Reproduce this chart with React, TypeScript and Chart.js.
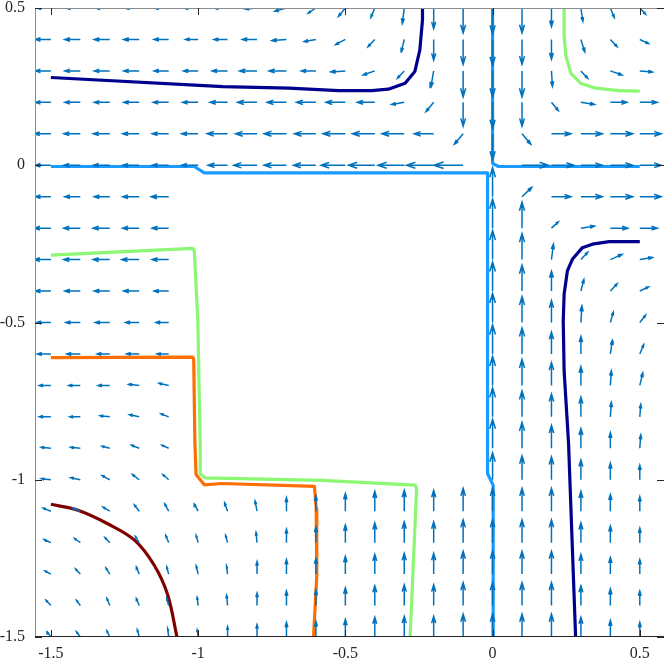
import React, { useEffect, useRef } from 'react';
import { Chart, registerables } from 'chart.js';

Chart.register(...registerables);

const N = null;

// grid of the vector field
const X_GRID = [-1.5, -1.4, -1.3, -1.2, -1.1, -1.0, -0.9, -0.8, -0.7, -0.6, -0.5, -0.4, -0.3, -0.2, -0.1, 0, 0.1, 0.2, 0.3, 0.4, 0.5];
const Y_GRID = [0.5, 0.4, 0.3, 0.2, 0.1, 0, -0.1, -0.2, -0.3, -0.4, -0.5, -0.6, -0.7, -0.8, -0.9, -1.0, -1.1, -1.2, -1.3, -1.4, -1.5];

// horizontal components, one row per Y_GRID value
const U_ROWS = [
  [-15, -15, -15, -15, -15, -15, -14, -12, -12, -8, -7, -4, -2, 0, 0, 0, 0, 0, 2, 4, 6],
  [-16, -16, -16, -16, -15, -13, -14, -15, -15, -12, -10, -7, -3, 0, 0, 0, 0, 0, 4, 7, 9],
  [-16, -16, -16, -16, -15, -15, -16, -18, -18, -15, -15, -12, -7, -3, 0, 0, 0, 1, 7, 12, 13],
  [-16, -16, -16, -16, -16, -16, -18, -20, -20, -20, -20, -18, -13, -8, 0, 0, 0, 7, 14, 17, 18],
  [-17, -17, -17, -17, -17, -17, -21, -22, -23, -22, -23, -23, -23, -20, -9, 0, 9, 20, 22, 23, 22],
  [-16, -17, -17, -17, -17, -17, -20, -24, -23, -23, -25, -27, -27, -28, -30, 0, 27, 23, 22, 23, 22],
  [-16, -16, -16, -17, -18, N, N, N, N, N, N, N, N, N, N, 0, 10, 20, 22, 23, 22],
  [-17, -17, -17, -17, -17, N, N, N, N, N, N, N, N, N, N, 0, 0, 7, 14, 18, 18],
  [-17, -17, -17, -18, -17, N, N, N, N, N, N, N, N, N, N, 0, 0, 2, 7, 12, 13],
  [-16, -16, -16, -16, -15, N, N, N, N, N, N, N, N, N, N, 0, 0, 0, 3, 7, 9],
  [-15, -15, -15, -14, -13, N, N, N, N, N, N, N, N, N, N, 0, 0, 0, 1, 3, 6],
  [-14, -14, -13, -13, -12, N, N, N, N, N, N, N, N, N, N, 0, 0, 0, 0, 2, 4],
  [-12, -12, -12, -11, -10, N, N, N, N, N, N, N, N, N, N, 0, 0, 0, 0, 1, 3],
  [-12, -11, -10, -10, -8, N, N, N, N, N, N, N, N, N, N, 0, 0, 0, 0, 1, 1],
  [-10, -10, -8, -8, -7, N, N, N, N, N, N, N, N, N, N, 0, 0, 0, 0, 0, 1],
  [-10, -10, -8, -7, -6, N, N, N, N, N, N, N, N, N, N, 0, 0, 0, 0, 0, 0],
  [-8, -8, -7, -5, -4, -4, -3, -2, 0, 0, 0, 0, 0, 0, 0, 0, 0, 0, 0, 0, 0],
  [-7, -6, -5, -4, -3, -2, -2, -1, 0, 0, 0, 0, 0, 0, 0, 0, 0, 0, 0, 0, 0],
  [-6, -5, -4, -3, -2, -2, -1, 0, 0, 0, 0, 0, 0, 0, 0, 0, 0, 0, 0, 0, 0],
  [-5, -4, -3, -3, -2, -1, -1, 0, 0, 0, 0, 0, 0, 0, 0, 0, 0, 0, 0, 0, 0],
  [-4, -4, -3, -2, -1, -1, 0, 0, 0, 0, 0, 0, 0, 0, 0, 0, 0, 0, 0, 0, 0],
];

// vertical components, one row per Y_GRID value
const V_ROWS = [
  [0, 0, 0, 0, 0, 0, 0, -1, -3, -5, -8, -9, -15, -20, -24, -25, -24, -18, -13, -9, -6],
  [0, 0, 0, 0, 0, 0, 0, 0, -1, -2, -5, -7, -12, -20, -24, -25, -24, -19, -12, -7, -4],
  [0, 0, 0, 0, 0, 0, 0, 0, 0, 0, -1, -4, -7, -16, -25, -25, -25, -15, -7, -4, -1],
  [0, 0, 0, 0, 0, 0, 0, 0, 0, 0, 0, 0, -2, -9, -23, -25, -23, -8, -2, 0, 0],
  [0, 0, 0, 0, 0, 0, 0, 0, 0, 0, 0, 0, 0, 0, -10, -25, -10, 0, 0, 0, 0],
  [0, 0, 0, 0, 0, 0, 0, 0, 0, 0, 0, 0, 0, 0, 0, 0, 0, 0, 0, 0, 0],
  [0, 0, 0, 0, 0, N, N, N, N, N, N, N, N, N, N, 28, 9, 0, 0, 0, 0],
  [0, 0, 0, 0, 0, N, N, N, N, N, N, N, N, N, N, 28, 25, 6, 2, 0, 0],
  [0, 0, 0, 0, 0, N, N, N, N, N, N, N, N, N, N, 28, 25, 15, 7, 5, 2],
  [0, 0, 0, 0, 0, N, N, N, N, N, N, N, N, N, N, 28, 25, 19, 11, 7, 4],
  [0, 0, 0, 0, 0, N, N, N, N, N, N, N, N, N, N, 28, 25, 21, 16, 10, 7],
  [0, 0, 0, 0, 0, N, N, N, N, N, N, N, N, N, N, 28, 25, 21, 17, 13, 9],
  [0, 0, 0, 1, 2, N, N, N, N, N, N, N, N, N, N, 28, 25, 22, 18, 14, 12],
  [0, 0, 1, 2, 3, N, N, N, N, N, N, N, N, N, N, 28, 25, 22, 19, 14, 12],
  [1, 1, 2, 3, 3, N, N, N, N, N, N, N, N, N, N, 28, 25, 22, 19, 15, 13],
  [1, 2, 4, 5, 5, N, N, N, N, N, N, N, N, N, N, 26, 23, 22, 19, 16, 14],
  [3, 3, 4, 6, 7, 7, 8, 10, 13, 15, 17, 19, 20, 20, 22, 22, 22, 22, 19, 16, 14],
  [3, 4, 5, 6, 7, 7, 7, 10, 13, 15, 17, 19, 20, 20, 22, 22, 22, 22, 19, 16, 14],
  [3, 5, 6, 7, 7, 8, 8, 12, 14, 15, 17, 19, 20, 20, 22, 22, 22, 22, 19, 16, 14],
  [5, 5, 7, 7, 7, 8, 10, 12, 14, 15, 17, 19, 20, 20, 22, 22, 22, 22, 19, 16, 14],
  [5, 5, 6, 7, 8, 7, 10, 12, 14, 15, 17, 19, 20, 20, 22, 22, 22, 22, 19, 16, 14],
];

// level curves
const NAVY_TOP_X = [-1.5, -0.916, -0.692, -0.523, -0.41, -0.354, -0.297, -0.264, -0.247, -0.238, -0.238];
const NAVY_TOP_Y = [0.279, 0.25, 0.245, 0.237, 0.237, 0.242, 0.261, 0.298, 0.367, 0.462, 0.5];
const NAVY_RIGHT_X = [0.5, 0.396, 0.339, 0.305, 0.271, 0.254, 0.243, 0.24, 0.243, 0.258, 0.282];
const NAVY_RIGHT_Y = [-0.243, -0.243, -0.251, -0.262, -0.299, -0.336, -0.41, -0.495, -0.654, -0.883, -1.5];
const BLUE_A_X = [-1.5, -1.013, -0.979, -0.017, -0.017, 0.002, 0.002];
const BLUE_A_Y = [-0.004, -0.004, -0.024, -0.024, -0.981, -1.017, -1.5];
const BLUE_B_X = [0, 0, 0.02, 0.5];
const BLUE_B_Y = [0.5, 0.006, -0.004, -0.004];
const GREEN_TOP_X = [0.243, 0.243, 0.249, 0.266, 0.299, 0.35, 0.43, 0.5];
const GREEN_TOP_Y = [0.5, 0.411, 0.347, 0.292, 0.261, 0.245, 0.237, 0.236];
const GREEN_MID_X = [-1.5, -1.018, -1.013, -1.001, -0.993, -0.993, -0.977, -0.58, -0.263, -0.258, -0.28];
const GREEN_MID_Y = [-0.286, -0.264, -0.272, -0.495, -0.883, -0.981, -0.994, -1.002, -1.017, -1.028, -1.5];
const ORANGE_X = [-1.5, -1.018, -1.015, -1.011, -1.007, -0.979, -0.919, -0.605, -0.599, -0.597, -0.608];
const ORANGE_Y = [-0.612, -0.61, -0.617, -0.883, -0.983, -1.016, -1.012, -1.021, -1.092, -1.304, -1.5];
const RED_X = [-1.5, -1.408, -1.307, -1.216, -1.149, -1.103, -1.072];
const RED_Y = [-1.078, -1.097, -1.14, -1.192, -1.272, -1.367, -1.5];

const X_TICKS = [-1.5, -1, -0.5, 0, 0.5];
const Y_TICKS = [-1.5, -1, -0.5, 0, 0.5];

const ARROW_SCALE = 0.0033;

function zip(xs: number[], ys: number[]) {
  return xs.map((x, i) => ({ x, y: ys[i] }));
}

function buildArrows() {
  const pts: { x: number; y: number | null }[] = [];
  const a = 0.33;
  const b = 0.32;
  for (let r = 0; r < Y_GRID.length; r++) {
    for (let c = 0; c < X_GRID.length; c++) {
      const u = U_ROWS[r][c];
      const v = V_ROWS[r][c];
      if (u === null || v === null) continue;
      if (u === 0 && v === 0) continue;
      const x0 = X_GRID[c];
      const y0 = Y_GRID[r];
      const du = u * ARROW_SCALE;
      const dv = v * ARROW_SCALE;
      const x1 = x0 + du;
      const y1 = y0 + dv;
      pts.push({ x: x0, y: y0 }, { x: x1, y: y1 }, { x: x1, y: null });
      pts.push(
        { x: x1 - a * (du + b * dv), y: y1 - a * (dv - b * du) },
        { x: x1, y: y1 },
        { x: x1 - a * (du - b * dv), y: y1 - a * (dv + b * du) },
        { x: x1, y: null }
      );
    }
  }
  return pts;
}

const framePlugin = {
  id: 'frame',
  afterDatasetsDraw(chart: any) {
    const { ctx, chartArea: a, scales } = chart;
    const xs = scales.x;
    const ys = scales.y;
    ctx.save();
    ctx.lineWidth = 1;
    ctx.strokeStyle = '#8c8c8c';
    ctx.beginPath();
    ctx.moveTo(a.left + 0.5, a.bottom);
    ctx.lineTo(a.left + 0.5, a.top + 0.5);
    ctx.lineTo(a.right - 0.5, a.top + 0.5);
    ctx.lineTo(a.right - 0.5, a.bottom);
    ctx.stroke();
    ctx.strokeStyle = '#262626';
    ctx.beginPath();
    ctx.moveTo(a.left, a.bottom - 0.5);
    ctx.lineTo(a.right, a.bottom - 0.5);
    ctx.stroke();
    const tl = 7;
    ctx.beginPath();
    X_TICKS.forEach((v) => {
      const px = Math.round(xs.getPixelForValue(v)) + 0.5;
      ctx.moveTo(px, a.bottom);
      ctx.lineTo(px, a.bottom - tl);
      ctx.moveTo(px, a.top);
      ctx.lineTo(px, a.top + tl);
    });
    Y_TICKS.forEach((v) => {
      const py = Math.round(ys.getPixelForValue(v)) + 0.5;
      ctx.moveTo(a.left, py);
      ctx.lineTo(a.left + tl, py);
      ctx.moveTo(a.right - 2, py);
      ctx.lineTo(a.right - 2 - tl, py);
    });
    ctx.stroke();
    ctx.restore();
  },
};

export default function App() {
  const ref = useRef<HTMLCanvasElement | null>(null);
  useEffect(() => {
    if (!ref.current) return;
    const line = (xs: number[], ys: number[], color: string, tension = 0) => ({
      data: zip(xs, ys),
      showLine: true,
      borderColor: color,
      borderWidth: 3.2,
      pointRadius: 0,
      fill: false,
      order: 2,
      tension,
      borderJoinStyle: 'round' as const,
    });
    const zeroPad = (s: any) => {
      s.paddingTop = 0;
      s.paddingBottom = 0;
      s.paddingLeft = 0;
      s.paddingRight = 0;
    };
    const chart = new Chart(ref.current, {
      type: 'scatter',
      data: {
        datasets: [
          {
            data: buildArrows() as any,
            showLine: true,
            spanGaps: false,
            borderColor: '#0072BD',
            borderWidth: 1.5,
            pointRadius: 0,
            order: 1,
          } as any,
          line(NAVY_TOP_X, NAVY_TOP_Y, '#00008F'),
          line(NAVY_RIGHT_X, NAVY_RIGHT_Y, '#00008F'),
          line(BLUE_A_X, BLUE_A_Y, '#1A9BFF'),
          line(BLUE_B_X, BLUE_B_Y, '#1A9BFF'),
          line(GREEN_TOP_X, GREEN_TOP_Y, '#8CF773'),
          line(GREEN_MID_X, GREEN_MID_Y, '#8CF773'),
          line(ORANGE_X, ORANGE_Y, '#FF6E00'),
          line(RED_X, RED_Y, '#800000', 0.35),
        ],
      },
      options: {
        responsive: false,
        animation: false,
        events: [],
        layout: { padding: { left: 0, top: 8, right: 2, bottom: 0 } },
        plugins: { legend: { display: false }, tooltip: { enabled: false } },
        scales: {
          x: {
            type: 'linear',
            min: -1.554,
            max: 0.589,
            grid: { display: false, drawTicks: false },
            border: { display: false },
            afterBuildTicks: (s: any) => {
              s.ticks = X_TICKS.map((value) => ({ value }));
            },
            afterFit: (s: any) => {
              s.height = 27;
              zeroPad(s);
            },
            ticks: {
              autoSkip: false,
              maxRotation: 0,
              padding: 9,
              color: '#262626',
              font: { family: 'Liberation Serif', size: 16, lineHeight: 1 },
              callback: (v: any) => String(v),
            },
          },
          y: {
            type: 'linear',
            min: -1.5,
            max: 0.5,
            grid: { display: false, drawTicks: false },
            border: { display: false },
            afterBuildTicks: (s: any) => {
              s.ticks = Y_TICKS.map((value) => ({ value }));
            },
            afterFit: (s: any) => {
              s.width = 35;
              zeroPad(s);
            },
            ticks: {
              autoSkip: false,
              padding: 10,
              color: '#262626',
              font: { family: 'Liberation Serif', size: 16, lineHeight: 1 },
              callback: (v: any) => String(v),
            },
          },
        },
      },
      plugins: [framePlugin],
    });
    return () => chart.destroy();
  }, []);
  return (
    <div style={{ position: 'fixed', left: 0, top: 0, width: 664, height: 664, overflow: 'hidden', background: '#fff' }}>
      <canvas ref={ref} width={668} height={664} style={{ display: 'block', width: 668, height: 664 }} />
    </div>
  );
}
